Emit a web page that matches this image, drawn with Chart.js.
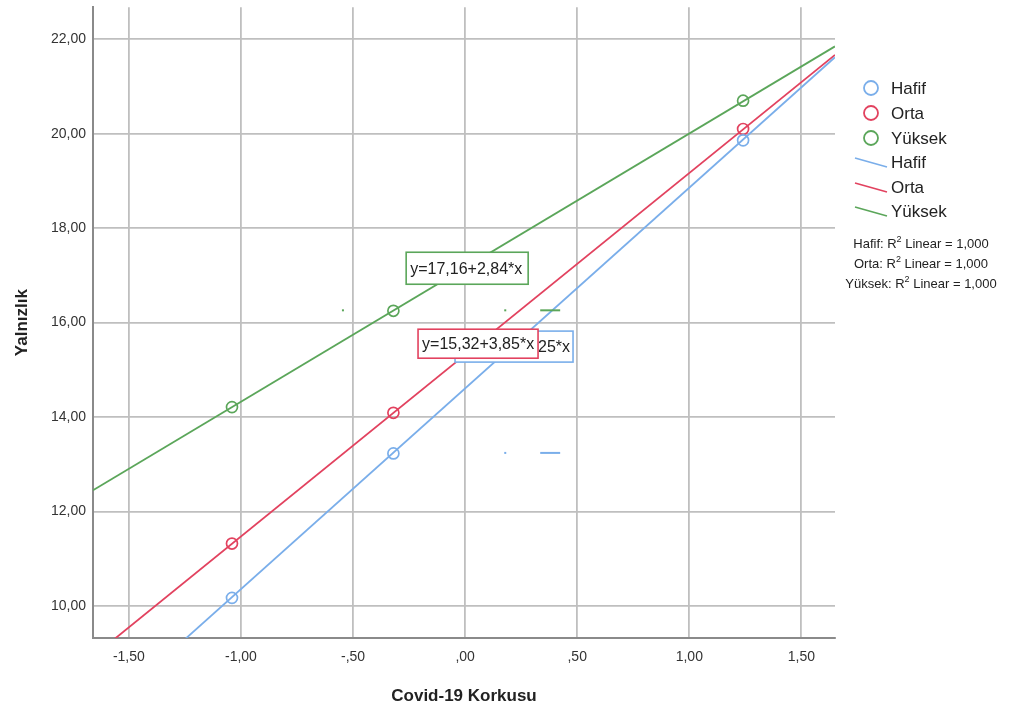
<!DOCTYPE html>
<html>
<head>
<meta charset="utf-8">
<script src="https://cdn.jsdelivr.net/npm/chart.js@4.4.0/dist/chart.umd.min.js"></script>
<style>
  html, body { margin: 0; padding: 0; background: #fff; }
  #wrap { width: 1009px; height: 713px; position: relative; }
</style>
</head>
<body>
<div id="wrap"><canvas id="chart" width="1009" height="713"></canvas></div>
<script>
// group names and colours
const groups = ["Hafif", "Orta", "Yüksek"];
const colors = ["#7aaeea", "#e2425f", "#5ba65a"];

// observed points (x shared by all groups)
const pointX = [-1.04, -0.32, 1.24];
const hafifY = [10.17, 13.23, 19.86];
const ortaY = [11.32, 14.09, 20.10];
const yuksekY = [14.21, 16.25, 20.70];

// fit line ends, read at the left and right edge of the plot
const fitX = [-1.66, 1.65];
const hafifFit = [7.55, 21.62];
const ortaFit = [8.93, 21.67];
const yuksekFit = [12.45, 21.85];

// fit equations and R2 texts
const equations = ["y=14,61+4,25*x", "y=15,32+3,85*x", "y=17,16+2,84*x"];
const r2Values = ["1,000", "1,000", "1,000"];

// ticks
const xTickValues = [-1.5, -1.0, -0.5, 0, 0.5, 1.0, 1.5];
const xTickLabels = ["-1,50", "-1,00", "-,50", ",00", ",50", "1,00", "1,50"];
const yTickValues = [10, 12, 14, 16, 18, 20, 22];
const yTickLabels = ["10,00", "12,00", "14,00", "16,00", "18,00", "20,00", "22,00"];

const FONT = "'Liberation Sans', Arial, sans-serif";

const pointSets = [hafifY, ortaY, yuksekY];
const fitSets = [hafifFit, ortaFit, yuksekFit];

const datasets = [];
groups.forEach((g, i) => {
  datasets.push({
    type: "scatter",
    label: g,
    data: pointX.map((x, k) => ({ x: x, y: pointSets[i][k] })),
    borderColor: colors[i],
    backgroundColor: "rgba(0,0,0,0)",
    pointRadius: 5.5,
    pointBorderWidth: 1.7,
    showLine: false,
  });
});
groups.forEach((g, i) => {
  datasets.push({
    type: "line",
    label: g,
    data: fitX.map((x, k) => ({ x: x, y: fitSets[i][k] })),
    borderColor: colors[i],
    borderWidth: 1.8,
    pointRadius: 0,
    fill: false,
  });
});

// where the equation boxes sit (data coords of the top-left corner) and their size
const boxes = [
  { idx: 0, x: -0.045, y: 15.82, w: 118, h: 31, align: "right" },
  { idx: 2, x: -0.263, y: 17.49, w: 122, h: 32, align: "left" },
  { idx: 1, x: -0.21, y: 15.86, w: 120, h: 29, align: "left" },
];

const overlayPlugin = {
  id: "overlay",
  afterDatasetsDraw(chart) {
    const ctx = chart.ctx;
    const { x, y } = chart.scales;
    ctx.save();

    // small leftover marks of the hidden label keys
    const marks = [
      { c: colors[2], vy: 16.26, dots: [-0.545, 0.179], dash: [0.335, 0.424] },
      { c: colors[0], vy: 13.24, dots: [0.179], dash: [0.335, 0.424] },
    ];
    marks.forEach(m => {
      ctx.fillStyle = m.c;
      ctx.strokeStyle = m.c;
      m.dots.forEach(d => ctx.fillRect(x.getPixelForValue(d) - 1, y.getPixelForValue(m.vy) - 1, 2, 2));
      ctx.lineWidth = 2;
      ctx.beginPath();
      ctx.moveTo(x.getPixelForValue(m.dash[0]), y.getPixelForValue(m.vy));
      ctx.lineTo(x.getPixelForValue(m.dash[1]), y.getPixelForValue(m.vy));
      ctx.stroke();
    });

    // equation boxes
    boxes.forEach(b => {
      const left = x.getPixelForValue(b.x);
      const top = y.getPixelForValue(b.y);
      ctx.fillStyle = "#fff";
      ctx.fillRect(left, top, b.w, b.h);
      ctx.strokeStyle = colors[b.idx];
      ctx.lineWidth = 1.6;
      ctx.strokeRect(left, top, b.w, b.h);
      ctx.fillStyle = "#222";
      ctx.font = "16px " + FONT;
      ctx.textBaseline = "middle";
      if (b.align === "right") {
        ctx.textAlign = "right";
        ctx.fillText(equations[b.idx], left + b.w - 3, top + b.h / 2 + 1);
      } else {
        ctx.textAlign = "left";
        ctx.fillText(equations[b.idx], left + 4, top + b.h / 2 + 1);
      }
    });

    // legend: markers
    ctx.textAlign = "left";
    ctx.textBaseline = "middle";
    ctx.font = "17px " + FONT;
    const markRows = [88, 113, 138];
    const lineRows = [162, 187, 211];
    groups.forEach((g, i) => {
      ctx.strokeStyle = colors[i];
      ctx.lineWidth = 1.8;
      ctx.beginPath();
      ctx.arc(871, markRows[i], 7, 0, Math.PI * 2);
      ctx.stroke();
      ctx.fillStyle = "#222";
      ctx.fillText(g, 891, markRows[i] + 1);
    });
    groups.forEach((g, i) => {
      ctx.strokeStyle = colors[i];
      ctx.lineWidth = 1.6;
      ctx.beginPath();
      ctx.moveTo(855, lineRows[i] - 4);
      ctx.lineTo(887, lineRows[i] + 5);
      ctx.stroke();
      ctx.fillStyle = "#222";
      ctx.fillText(g, 891, lineRows[i] + 1);
    });

    // R2 lines, centred
    const r2Rows = [243, 263, 283];
    groups.forEach((g, i) => {
      const a = g + ": R";
      const b = " Linear = " + r2Values[i];
      ctx.font = "13px " + FONT;
      const wa = ctx.measureText(a).width;
      const wb = ctx.measureText(b).width;
      ctx.font = "9px " + FONT;
      const ws = ctx.measureText("2").width;
      const total = wa + ws + wb;
      let px = 921 - total / 2;
      ctx.fillStyle = "#222";
      ctx.textBaseline = "alphabetic";
      ctx.font = "13px " + FONT;
      ctx.fillText(a, px, r2Rows[i] + 5);
      ctx.font = "9px " + FONT;
      ctx.fillText("2", px + wa, r2Rows[i] - 1);
      ctx.font = "13px " + FONT;
      ctx.fillText(b, px + wa + ws, r2Rows[i] + 5);
    });

    ctx.restore();
  }
};

new Chart(document.getElementById("chart"), {
  data: { datasets: datasets },
  options: {
    responsive: false,
    animation: false,
    layout: { padding: { top: 7, right: 174, left: 0, bottom: 0 } },
    plugins: {
      legend: { display: false },
      tooltip: { enabled: false },
    },
    scales: {
      x: {
        type: "linear",
        min: -1.66,
        max: 1.65,
        afterBuildTicks: s => { s.ticks = xTickValues.map(v => ({ value: v })); },
        afterFit: s => { s.height = 75; s.paddingLeft = 0; s.paddingRight = 0; },
        grid: { color: "#bfbfbf", lineWidth: 1.8, drawTicks: false },
        border: { color: "#8a8a8a", width: 2 },
        ticks: {
          padding: 11,
          color: "#333",
          font: { size: 14, family: FONT },
          callback: (v, i) => xTickLabels[i],
        },
        title: {
          display: true,
          text: "Covid-19 Korkusu",
          color: "#222",
          font: { size: 17, weight: "bold", family: FONT },
          padding: { top: 0, bottom: 6 },
        },
      },
      y: {
        type: "linear",
        min: 9.32,
        max: 22.68,
        afterBuildTicks: s => { s.ticks = yTickValues.map(v => ({ value: v })); },
        afterFit: s => { s.width = 93; s.paddingTop = 0; s.paddingBottom = 0; },
        grid: { color: "#bfbfbf", lineWidth: 1.8, drawTicks: false },
        border: { color: "#8a8a8a", width: 2 },
        ticks: {
          padding: 7,
          color: "#333",
          font: { size: 14, family: FONT },
          callback: (v, i) => yTickLabels[i],
        },
        title: {
          display: true,
          text: "Yalnızlık",
          color: "#222",
          font: { size: 17, weight: "bold", family: FONT },
          padding: { top: 12, bottom: 0 },
        },
      },
    },
  },
  plugins: [overlayPlugin],
});
</script>
</body>
</html>
